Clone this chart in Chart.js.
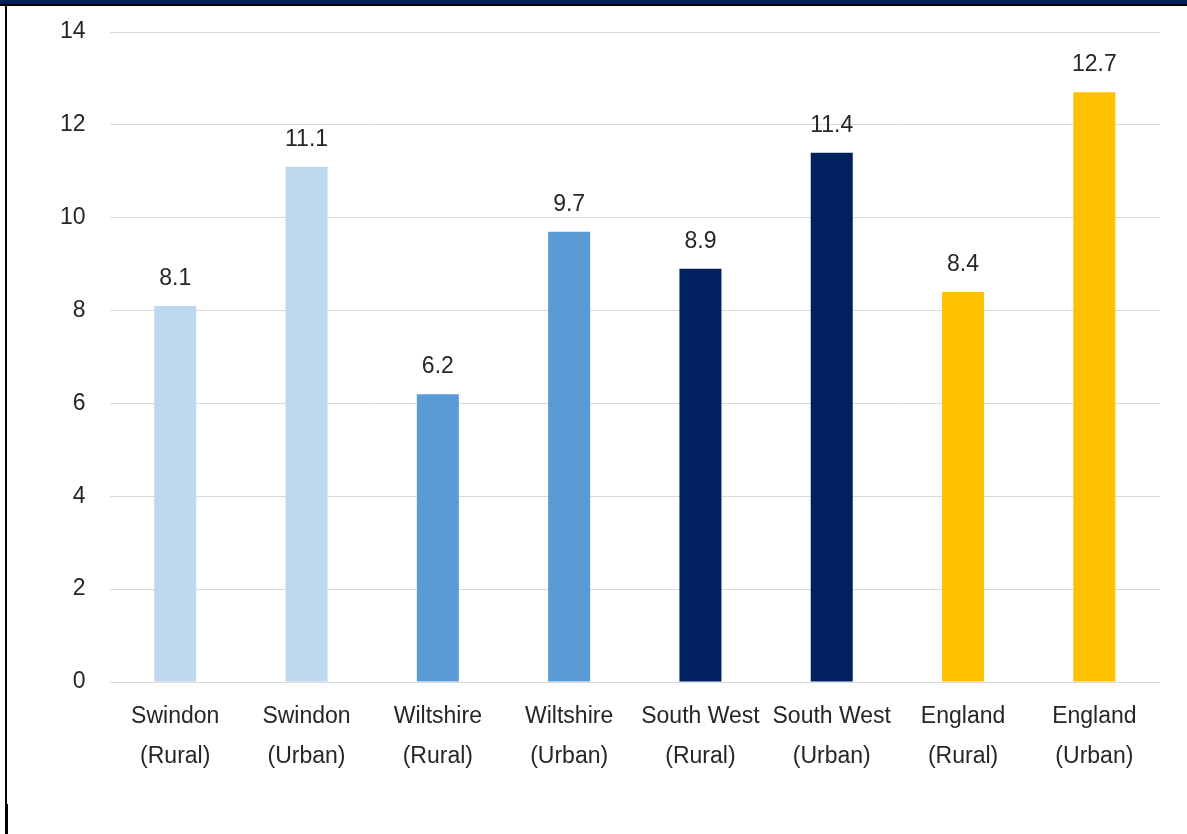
<!DOCTYPE html>
<html>
<head>
<meta charset="utf-8">
<script src="https://cdn.jsdelivr.net/npm/chart.js@4"></script>
<style>
  html, body { margin: 0; padding: 0; background: #fff; }
  #wrap { position: relative; width: 1187px; height: 834px; overflow: hidden; }
  #chart { position: absolute; left: 0; top: 0; }
  .band { position: absolute; left: 0; top: 0; width: 1187px; height: 4px; background: #002060; }
  .rule { position: absolute; left: 0; top: 4px; width: 1187px; height: 2px; background: #000; }
  .edge { position: absolute; left: 5px; top: 4px; width: 2px; height: 800px; background: #000; }
  .edge2 { position: absolute; left: 5px; top: 804px; width: 3px; height: 30px; background: #000; }
</style>
</head>
<body>
<div id="wrap">
  <canvas id="chart" width="1187" height="834"></canvas>
  <div class="band"></div>
  <div class="rule"></div>
  <div class="edge"></div>
  <div class="edge2"></div>
</div>
<script>
  // Categories and values
  const areas = [
    ['Swindon', '(Rural)'], ['Swindon', '(Urban)'],
    ['Wiltshire', '(Rural)'], ['Wiltshire', '(Urban)'],
    ['South West', '(Rural)'], ['South West', '(Urban)'],
    ['England', '(Rural)'], ['England', '(Urban)']
  ];
  const rates = [8.1, 11.1, 6.2, 9.7, 8.9, 11.4, 8.4, 12.7];
  const barColours = ['#BDD7EE', '#BDD7EE', '#5B9BD5', '#5B9BD5', '#002060', '#002060', '#FFC000', '#FFC000'];

  const textColour = '#262626';
  const fontFamily = '"Liberation Sans", Arial, sans-serif';

  // Value labels above each bar
  const valueLabels = {
    id: 'valueLabels',
    afterDatasetsDraw(chart) {
      const ctx = chart.ctx;
      const meta = chart.getDatasetMeta(0);
      ctx.save();
      ctx.font = '23px ' + fontFamily;
      ctx.fillStyle = textColour;
      ctx.textAlign = 'center';
      ctx.textBaseline = 'alphabetic';
      meta.data.forEach((bar, i) => {
        ctx.fillText(rates[i].toFixed(1), bar.x, bar.y - 21);
      });
      ctx.restore();
    }
  };

  const ctx = document.getElementById('chart').getContext('2d');
  const chart = new Chart(ctx, {
    type: 'bar',
    data: {
      labels: areas,
      datasets: [{
        data: rates,
        backgroundColor: barColours,
        borderWidth: 0,
        categoryPercentage: 1,
        barPercentage: 0.32
      }]
    },
    options: {
      responsive: false,
      animation: false,
      layout: {
        padding: { left: 36, right: 27, top: 32, bottom: 42 }
      },
      plugins: {
        legend: { display: false },
        tooltip: { enabled: false }
      },
      scales: {
        x: {
          grid: { display: false, drawTicks: false },
          border: { display: false },
          ticks: {
            color: textColour,
            padding: 15,
            maxRotation: 0,
            autoSkip: false,
            font: { family: fontFamily, size: 23, lineHeight: '40px' }
          }
        },
        y: {
          min: 0,
          max: 14,
          grid: { color: '#D9D9D9', lineWidth: 1, drawTicks: false },
          border: { display: false },
          ticks: {
            stepSize: 2,
            color: textColour,
            padding: 24,
            font: { family: fontFamily, size: 23 }
          },
          // the tick padding is only meant as a horizontal gap
          afterFit(scale) {
            scale.paddingTop = 0;
            scale.paddingBottom = 0;
          }
        }
      }
    },
    plugins: [valueLabels]
  });
</script>
</body>
</html>
